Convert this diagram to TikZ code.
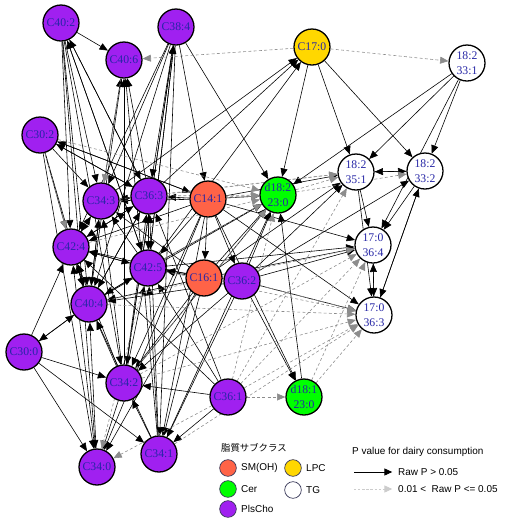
\documentclass[tikz,border=0pt]{standalone}
\usepackage{fontspec}
\setmainfont{Liberation Serif}
\newfontfamily\legfont{Liberation Sans}
\newfontfamily\jpfont{Noto Sans CJK JP}
\usetikzlibrary{arrows.meta,backgrounds}
\definecolor{plscol}{HTML}{A020F0}
\definecolor{smcol}{HTML}{FF6347}
\definecolor{cercol}{HTML}{00FF00}
\definecolor{lpccol}{HTML}{FFD700}
\definecolor{labcol}{HTML}{2626A6}
\definecolor{legline}{HTML}{3A3A5A}
\begin{document}
\begin{tikzpicture}[x=0.03cm,y=-0.03cm,
    lip/.style={circle,draw=black,line width=1.1pt,minimum size=1.08cm,inner sep=0pt,
      text=labcol,align=center,font=\fontsize{10}{12.5}\selectfont},
    pls/.style={lip,fill=plscol},
    smoh/.style={lip,fill=smcol},
    cer/.style={lip,fill=cercol},
    lpc/.style={lip,fill=lpccol},
    tg/.style={lip,fill=white},
    e/.style={-{Triangle[length=2.5mm,width=2.1mm]},line width=0.5pt,black},
    g/.style={-{Triangle[length=2.5mm,width=2.1mm]},line width=0.5pt,black!45,dash pattern=on 2.5pt off 2pt},
    legdot/.style={circle,draw=legline,line width=0.6pt,minimum size=0.5cm,inner sep=0pt},
    legtxt/.style={anchor=west,inner sep=0pt,font=\legfont\fontsize{8.5}{10}\selectfont}]
			%%%%% START %%%%%
			\useasboundingbox (0, 0) rectangle (510, 522);

			\node[pls] (c402) at (61, 23) {C40:2};
			\node[pls] (c406) at (124, 60) {C40:6};
			\node[pls] (c384) at (176, 27) {C38:4};
			\node[lpc] (c170) at (312, 47) {C17:0};
			\node[tg] (t331) at (467, 63) {18:2\\33:1};
			\node[pls] (c302) at (40, 135) {C30:2};
			\node[pls] (c343) at (101, 201) {C34:3};
			\node[pls] (c363) at (149, 196) {C36:3};
			\node[smoh] (c141) at (208, 199) {C14:1};
			\node[cer] (d182) at (278, 195) {d18:2\\23:0};
			\node[tg] (t351) at (356, 172) {18:2\\35:1};
			\node[tg] (t332) at (425, 171) {18:2\\33:2};
			\node[pls] (c424) at (71, 247) {C42:4};
			\node[pls] (c425) at (148, 268) {C42:5};
			\node[smoh] (c161) at (204, 278) {C16:1};
			\node[pls] (c362) at (242, 281) {C36:2};
			\node[tg] (t364) at (373, 245) {17:0\\36:4};
			\node[tg] (t363) at (374, 315) {17:0\\36:3};
			\node[pls] (c404) at (89, 304) {C40:4};
			\node[pls] (c300) at (24, 352) {C30:0};
			\node[pls] (c342) at (124, 383) {C34:2};
			\node[pls] (c361) at (228, 397) {C36:1};
			\node[cer] (d181) at (304, 397) {d18:1\\23:0};
			\node[pls] (c340) at (97, 467) {C34:0};
			\node[pls] (c341) at (159, 454) {C34:1};

			\begin{pgfonlayer}{background}
			\draw[e] (c402) edge (c406) edge (c343) edge (c424) edge (c404) edge (c342) edge (c340) edge (c363) edge (c425);
			\draw[e] (c384) edge (c343) edge (c363) edge (c424) edge (c425) edge (c404) edge (c342) edge (c341) edge (d182) edge (c141);
			\draw[e] (c170) edge (d182) edge (t351) edge (t332);
			\draw[e] (t331) edge (d182) edge (t351) edge (t332) edge (t364);
			\draw[e] (t351) edge (t332) edge (t364) edge (t363);
			\draw[e] (t332) edge (t351) edge (t364) edge (t363);
			\draw[e] (t364) edge (t363);
			\draw[e] (t363) edge (t364) edge (t332);
			\draw[e] (c302) edge (c343) edge (c363) edge (c424) edge (c404) edge (c340) edge (c141);
			\draw[e] (c141) edge (c302) edge (c363) edge (c343) edge (c425) edge (c424) edge (c161) edge (c362) edge (d182) edge (t351) edge (t364) edge (c342) edge (c341) edge (c340) edge (d181) edge (t363);
			\draw[e] (c161) edge (c425) edge (c424) edge (c404) edge (c343) edge (d182) edge (t364) edge (c342) edge (c341) edge (c340) edge (t351);
			\draw[e] (c362) edge (d182) edge (t351) edge (t332) edge (t364) edge (t363) edge (d181) edge (c425) edge (c342) edge (c341) edge (c404);
			\draw[e] (c300) edge (c424) edge (c404) edge (c342) edge (c341) edge (c340);
			\draw[e] (c404) edge (c300) edge (c425) edge (c424) edge (c343) edge (c363) edge (d182) edge (c406);
			\draw[e] (c424) edge (c363) edge (c343) edge (c425) edge (c404);
			\draw[e] (c343) edge (c363) edge (c424) edge (c404) edge (c170) edge (c406);
			\draw[e] (c363) edge (c343) edge (c402) edge (c406) edge (c302) edge (c424) edge (c404) edge (c170) edge (c425);
			\draw[e] (c425) edge (c363) edge (c343) edge (c424) edge (c404) edge (d182) edge (c384) edge (c402) edge (c170) edge (t364);
			\draw[e] (c342) edge (c425) edge (c424) edge (c404) edge (c406) edge (c384) edge (c363) edge (c343) edge (c340) edge (d182);
			\draw[e] (c341) edge (c425) edge (c404) edge (c363) edge (c406) edge (c342) edge (d182);
			\draw[e] (c361) edge (c342) edge (c341) edge (c363) edge (c425) edge (c424);
			\draw[e] (c340) edge (c404) edge (c424);
			\draw[e] (d181) edge (d182);

			\draw[g] (c170) edge (c406) edge (t331);
			\draw[g] (c302) edge (d182) edge (c424);
			\draw[g] (c406) edge (c343);
			\draw[g] (c343) edge (t351) edge (d182);
			\draw[g] (c363) edge (t351) edge (d182);
			\draw[g] (c424) edge (d182);
			\draw[g] (c425) edge (d182) edge (t363) edge (c340);
			\draw[g] (c404) edge (t363) edge (t364);
			\draw[g] (c342) edge (t363) edge (t364) edge (d182);
			\draw[g] (c341) edge (t363);
			\draw[g] (c361) edge (d181) edge (t363) edge (t364) edge (c340) edge (d182) edge (t351);
			\draw[g] (c362) edge (t363);
			\draw[g] (d181) edge (t363) edge (t364);
			\draw[g] (c141) edge (d182);
			\draw[g] (d182) edge (t351) edge (t332);
			\end{pgfonlayer}

			%%%%% LEGEND %%%%%
			\node[anchor=west,inner sep=0pt,font=\jpfont\fontsize{8}{10}\selectfont] (subcls) at (221, 448) {脂質サブクラス};
			\node[legdot,fill=smcol] (ksm) at (228, 468) {};
			\node[legtxt] (tsm) at (241, 468) {SM(OH)};
			\node[legdot,fill=lpccol] (klpc) at (293, 468) {};
			\node[legtxt] (tlpc) at (306, 468) {LPC};
			\node[legdot,fill=cercol] (kcer) at (228, 489) {};
			\node[legtxt] (tcer) at (241, 489) {Cer};
			\node[legdot,fill=white] (ktg) at (293, 490) {};
			\node[legtxt] (ttg) at (306, 490) {TG};
			\node[legdot,fill=plscol] (kpls) at (228, 509) {};
			\node[legtxt] (tpls) at (241, 509) {PlsCho};

			\node[legtxt] (ptitle) at (352, 452) {P value for dairy consumption};
			\coordinate (ka) at (354, 472);
			\node[legtxt] (traw) at (398, 472) {Raw P {\char`\>} 0.05};
			\coordinate (kb) at (354, 489);
			\node[legtxt] (tsig) at (398, 489) {0.01 {\char`\<}\ \ Raw P {\char`\<}= 0.05};
			\draw[-{Triangle[length=2.3mm,width=2.1mm]},line width=0.5pt,shorten >=5pt] (ka) -- (traw.west);
			\draw[-{Triangle[length=2.3mm,width=2.1mm]},line width=0.5pt,black!20,dash pattern=on 2pt off 1.5pt,shorten >=5pt] (kb) -- (tsig.west);
			%%%%% END %%%%%
\end{tikzpicture}
\end{document}
